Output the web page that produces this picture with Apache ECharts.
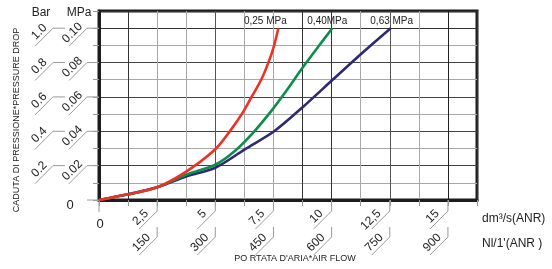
<!DOCTYPE html>
<html>
<head>
<meta charset="utf-8">
<script src="https://cdn.jsdelivr.net/npm/echarts@6/dist/echarts.min.js"></script>
<style>
  html, body { margin: 0; padding: 0; background: #fff; }
  #chart { width: 552px; height: 269px; }
</style>
</head>
<body>
<div id="chart"></div>
<script>
// curves: [dm3/s, MPa]
const red = [[0, 0], [1.25, 0.0033], [2.5, 0.0074], [3.75, 0.0165], [5, 0.0295], [5.6, 0.0395], [6.2, 0.0513], [6.56, 0.060], [7.0, 0.0707], [7.35, 0.0824], [7.53, 0.090], [7.71, 0.100]];
const green = [[0, 0], [1.25, 0.0033], [2.5, 0.0074], [3.75, 0.0147], [5, 0.0205], [5.84, 0.0285], [6.63, 0.0392], [7.42, 0.052], [8.0, 0.0625], [8.78, 0.0775], [9.43, 0.0893], [10.03, 0.100]];
const blue = [[0, 0], [1.25, 0.0033], [2.5, 0.0074], [3.75, 0.0137], [5, 0.0188], [6.27, 0.0295], [7.53, 0.040], [8.78, 0.0543], [10.03, 0.0698], [11.29, 0.0853], [12.54, 0.100]];
const curveNames = ['0,25 MPa', '0,40MPa', '0,63 MPa'];

// tick labels
const xTicks = [0, 2.5, 5, 7.5, 10, 12.5, 15];
const xLabelsDm = ['0', '2,5', '5', '7,5', '10', '12,5', '15'];
const xLabelsNl = ['', '150', '300', '450', '600', '750', '900'];
const yTicks = [0, 0.02, 0.04, 0.06, 0.08, 0.10];
const yLabelsMpa = ['0', '0.02', '0.04', '0.06', '0.08', '0.10'];
const yLabelsBar = ['', '0.2', '0.4', '0.6', '0.8', '1.0'];

const FONT = '"Liberation Sans", Arial, sans-serif';
const D = Math.SQRT1_2;
const chart = echarts.init(document.getElementById('chart'));

function seg(x1, y1, x2, y2) {
  return { type: 'line', shape: { x1: x1, y1: y1, x2: x2, y2: y2 }, style: { stroke: '#9a9a9a', lineWidth: 1 } };
}
function slantText(text, x, y) {
  return {
    type: 'text', x: x, y: y, rotation: Math.PI / 4,
    style: { text: text, fill: '#222', font: '12px ' + FONT, align: 'right', verticalAlign: 'bottom' }
  };
}
function flatText(text, x, y) {
  return { type: 'text', x: x, y: y, style: { text: text, fill: '#222', font: '13px ' + FONT, align: 'center', verticalAlign: 'middle' } };
}

// x axis ticks, underlines and two rows of labels
function renderX(params, api) {
  const i = params.dataIndex;
  const p = api.coord([api.value(0), 0]);
  const x = p[0], y0 = p[1];
  if (i === 0) {
    return { type: 'group', children: [seg(x, y0, x, y0 + 12), flatText(xLabelsDm[i], x + 1, y0 + 24)] };
  }
  const t1 = y0 + 11, t2 = y0 + 27;
  return {
    type: 'group', children: [
      seg(x, y0, x, t1),
      seg(x, t1, x - 18, t1 + 18),
      slantText(xLabelsDm[i], x - 8 * D - D, t1 + 8 * D - D),
      seg(x, t2, x, t2 + 10),
      seg(x, t2 + 10, x - 18, t2 + 28),
      slantText(xLabelsNl[i], x - 5 * D - D, t2 + 10 + 5 * D - D)
    ]
  };
}

// y axis ticks, underlines, MPa and Bar labels
function renderY(params, api) {
  const i = params.dataIndex;
  const p = api.coord([0, api.value(0)]);
  const x0 = p[0], y = p[1];
  if (i === 0) {
    return { type: 'group', children: [seg(x0, y, x0 - 12, y), flatText(yLabelsMpa[i], x0 - 29, y + 5)] };
  }
  const xm = x0 - 12, xb = x0 - 46;
  return {
    type: 'group', children: [
      seg(x0, y, xm, y),
      seg(xm, y, xm - 18, y + 18),
      slantText(yLabelsMpa[i], xm - 2 * D - D, y + 2 * D - D),
      seg(xb, y, xb + 12, y),
      seg(xb, y, xb - 18, y + 18),
      slantText(yLabelsBar[i], xb - 4 * D - D, y + 4 * D - D)
    ]
  };
}

// curve names above the end of each curve
const labelShift = [-13, -5, 1];
function renderNames(params, api) {
  const i = params.dataIndex;
  const p = api.coord([api.value(0), api.value(1)]);
  return {
    type: 'text', x: p[0] + labelShift[i], y: p[1] - 2,
    style: { text: curveNames[i], fill: '#222', font: '10px ' + FONT, align: 'center', verticalAlign: 'bottom' }
  };
}

function curve(name, data, color) {
  return {
    name: name, type: 'line', data: data, smooth: 0.3,
    showSymbol: false, symbol: 'none', silent: true, z: 5,
    lineStyle: { color: color, width: 2.6 }
  };
}

const ends = [red, green, blue].map(function (s) { return s[s.length - 1]; });

const option = {
  backgroundColor: '#fff',
  animation: false,
  grid: {
    left: 99, right: 75, top: 11, bottom: 69,
    show: true, borderColor: '#1c1c1c', borderWidth: 3, backgroundColor: 'transparent'
  },
  xAxis: {
    type: 'value', min: 0, max: 16.25, interval: 1.25,
    axisLine: { show: true, onZero: false, lineStyle: { color: '#1c1c1c', width: 3 } },
    axisTick: { show: true, length: 6, lineStyle: { color: '#9a9a9a' } },
    axisLabel: { show: false },
    splitLine: { show: true, lineStyle: { width: 1, color: ['#333', '#333', '#a8a8a8', '#a8a8a8', '#555', '#a8a8a8', '#a8a8a8', '#333', '#333', '#a8a8a8', '#555', '#a8a8a8', '#222', '#333'] } }
  },
  yAxis: {
    type: 'value', min: 0, max: 0.11, interval: 0.01,
    axisLine: { show: true, onZero: false, lineStyle: { color: '#1c1c1c', width: 3 } },
    axisTick: { show: true, length: 6, lineStyle: { color: '#9a9a9a' } },
    axisLabel: { show: false },
    splitLine: { show: true, lineStyle: { width: 1, color: ['#333', '#a8a8a8', '#444', '#a8a8a8', '#444', '#a8a8a8', '#444', '#a8a8a8', '#444', '#a8a8a8', '#333', '#333'] } }
  },
  graphic: [
    { type: 'text', x: 327, y: -2, style: { text: 'ELEMENTO FILTRANTE*FILTERING ELEMENT =20 MICRONS', fill: '#222', font: '9px ' + FONT, align: 'center', verticalAlign: 'middle' } },
    { type: 'text', x: 41, y: 13, style: { text: 'Bar', fill: '#222', font: '12px ' + FONT, align: 'center', verticalAlign: 'middle' } },
    { type: 'text', x: 79, y: 13, style: { text: 'MPa', fill: '#222', font: '12px ' + FONT, align: 'center', verticalAlign: 'middle' } },
    { type: 'text', x: 17, y: 120, rotation: Math.PI / 2, style: { text: 'CADUTA DI PRESSIONE*PRESSURE DROP', fill: '#222', font: '9px ' + FONT, align: 'center', verticalAlign: 'middle' } },
    { type: 'text', x: 482, y: 219, style: { text: 'dm\u00b3/s(ANR)', fill: '#222', font: '12px ' + FONT, align: 'left', verticalAlign: 'middle' } },
    { type: 'text', x: 482, y: 244, style: { text: "Nl/1'(ANR )", fill: '#222', font: '12px ' + FONT, align: 'left', verticalAlign: 'middle' } },
    { type: 'text', x: 295, y: 259, style: { text: "PO RTATA D'ARIA*AIR FLOW", fill: '#222', font: '9px ' + FONT, align: 'center', verticalAlign: 'middle' } }
  ],
  series: [
    curve('0,63 MPa', blue, '#2e2878'),
    curve('0,40 MPa', green, '#0e8c4a'),
    curve('0,25 MPa', red, '#ee3124'),
    { type: 'custom', data: xTicks.map(function (v) { return [v]; }), renderItem: renderX, silent: true, clip: false, encode: { x: 0 } },
    { type: 'custom', data: yTicks.map(function (v) { return [v]; }), renderItem: renderY, silent: true, clip: false, encode: { y: 0 } },
    { type: 'custom', data: ends, renderItem: renderNames, silent: true, clip: false, z: 6 }
  ]
};
chart.setOption(option);
</script>
</body>
</html>
